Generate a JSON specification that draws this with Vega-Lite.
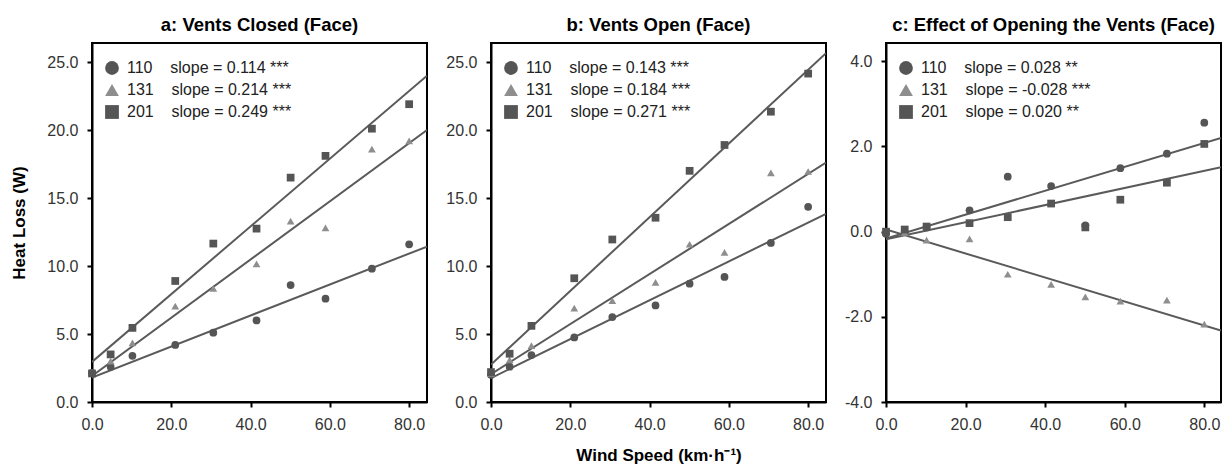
{
  "$schema": "https://vega.github.io/schema/vega-lite/v6.json",
  "padding": {"left": 9, "top": 14, "right": 2, "bottom": 5},
  "background": "white",
  "config": {
    "font": "Liberation Sans",
    "view": {"stroke": "black", "strokeWidth": 2},
    "axis": {"grid": false, "domainColor": "black", "domainWidth": 2, "tickColor": "black", "tickWidth": 2, "tickSize": 5, "labelFont": "Liberation Sans", "labelFontSize": 16, "labelColor": "#333333", "labelPadding": 9, "labelFlush": false, "labelOverlap": false, "labelExpr": "replace(datum.label, '\u2212', '-')", "titleFont": "Liberation Sans", "titleFontSize": 17, "titleFontWeight": "bold", "titleColor": "black"},
    "title": {"font": "Liberation Sans", "fontSize": 18.5, "fontWeight": "bold", "color": "black", "offset": 9},
    "legend": {"labelFont": "Liberation Sans", "labelFontSize": 16, "labelColor": "#222222", "labelLimit": 400, "symbolSize": 190, "symbolStrokeWidth": 0, "labelOffset": 7, "rowPadding": 6, "padding": 0, "title": null}
  },
  "datasets": {
    "points": [
      {"panel": "a", "group": "110", "speed": 0, "loss": 2.15},
      {"panel": "a", "group": "110", "speed": 4.7, "loss": 2.6},
      {"panel": "a", "group": "110", "speed": 10.2, "loss": 3.4},
      {"panel": "a", "group": "110", "speed": 21, "loss": 4.2},
      {"panel": "a", "group": "110", "speed": 30.6, "loss": 5.1},
      {"panel": "a", "group": "110", "speed": 41.5, "loss": 6.0},
      {"panel": "a", "group": "110", "speed": 50.1, "loss": 8.6},
      {"panel": "a", "group": "110", "speed": 58.9, "loss": 7.6},
      {"panel": "a", "group": "110", "speed": 70.6, "loss": 9.8},
      {"panel": "a", "group": "110", "speed": 80, "loss": 11.6},
      {"panel": "a", "group": "131", "speed": 0, "loss": 2.2},
      {"panel": "a", "group": "131", "speed": 4.7, "loss": 3.0},
      {"panel": "a", "group": "131", "speed": 10.2, "loss": 4.35},
      {"panel": "a", "group": "131", "speed": 21, "loss": 7.05},
      {"panel": "a", "group": "131", "speed": 30.6, "loss": 8.35},
      {"panel": "a", "group": "131", "speed": 41.5, "loss": 10.15},
      {"panel": "a", "group": "131", "speed": 50.1, "loss": 13.3},
      {"panel": "a", "group": "131", "speed": 58.9, "loss": 12.8},
      {"panel": "a", "group": "131", "speed": 70.6, "loss": 18.6},
      {"panel": "a", "group": "131", "speed": 80, "loss": 19.2},
      {"panel": "a", "group": "201", "speed": 0, "loss": 2.1},
      {"panel": "a", "group": "201", "speed": 4.7, "loss": 3.5},
      {"panel": "a", "group": "201", "speed": 10.2, "loss": 5.45},
      {"panel": "a", "group": "201", "speed": 21, "loss": 8.9},
      {"panel": "a", "group": "201", "speed": 30.6, "loss": 11.65},
      {"panel": "a", "group": "201", "speed": 41.5, "loss": 12.75},
      {"panel": "a", "group": "201", "speed": 50.1, "loss": 16.5},
      {"panel": "a", "group": "201", "speed": 58.9, "loss": 18.1},
      {"panel": "a", "group": "201", "speed": 70.6, "loss": 20.1},
      {"panel": "a", "group": "201", "speed": 80, "loss": 21.9},
      {"panel": "b", "group": "110", "speed": 0, "loss": 2.0},
      {"panel": "b", "group": "110", "speed": 4.7, "loss": 2.6},
      {"panel": "b", "group": "110", "speed": 10.2, "loss": 3.45},
      {"panel": "b", "group": "110", "speed": 21, "loss": 4.75},
      {"panel": "b", "group": "110", "speed": 30.6, "loss": 6.25},
      {"panel": "b", "group": "110", "speed": 41.5, "loss": 7.1},
      {"panel": "b", "group": "110", "speed": 50.1, "loss": 8.7},
      {"panel": "b", "group": "110", "speed": 58.9, "loss": 9.2},
      {"panel": "b", "group": "110", "speed": 70.6, "loss": 11.7},
      {"panel": "b", "group": "110", "speed": 80, "loss": 14.35},
      {"panel": "b", "group": "131", "speed": 0, "loss": 2.1},
      {"panel": "b", "group": "131", "speed": 4.7, "loss": 3.1},
      {"panel": "b", "group": "131", "speed": 10.2, "loss": 4.15},
      {"panel": "b", "group": "131", "speed": 21, "loss": 6.9},
      {"panel": "b", "group": "131", "speed": 30.6, "loss": 7.45},
      {"panel": "b", "group": "131", "speed": 41.5, "loss": 8.8},
      {"panel": "b", "group": "131", "speed": 50.1, "loss": 11.6},
      {"panel": "b", "group": "131", "speed": 58.9, "loss": 11.0},
      {"panel": "b", "group": "131", "speed": 70.6, "loss": 16.85},
      {"panel": "b", "group": "131", "speed": 80, "loss": 16.95},
      {"panel": "b", "group": "201", "speed": 0, "loss": 2.2},
      {"panel": "b", "group": "201", "speed": 4.7, "loss": 3.55},
      {"panel": "b", "group": "201", "speed": 10.2, "loss": 5.6},
      {"panel": "b", "group": "201", "speed": 21, "loss": 9.1},
      {"panel": "b", "group": "201", "speed": 30.6, "loss": 11.95},
      {"panel": "b", "group": "201", "speed": 41.5, "loss": 13.55},
      {"panel": "b", "group": "201", "speed": 50.1, "loss": 17.0},
      {"panel": "b", "group": "201", "speed": 58.9, "loss": 18.9},
      {"panel": "b", "group": "201", "speed": 70.6, "loss": 21.35},
      {"panel": "b", "group": "201", "speed": 80, "loss": 24.15},
      {"panel": "c", "group": "110", "speed": 0, "loss": -0.05},
      {"panel": "c", "group": "110", "speed": 4.7, "loss": 0.0},
      {"panel": "c", "group": "110", "speed": 10.2, "loss": 0.1},
      {"panel": "c", "group": "110", "speed": 21, "loss": 0.5},
      {"panel": "c", "group": "110", "speed": 30.6, "loss": 1.29},
      {"panel": "c", "group": "110", "speed": 41.5, "loss": 1.07},
      {"panel": "c", "group": "110", "speed": 50.1, "loss": 0.15},
      {"panel": "c", "group": "110", "speed": 58.9, "loss": 1.49},
      {"panel": "c", "group": "110", "speed": 70.6, "loss": 1.83},
      {"panel": "c", "group": "110", "speed": 80, "loss": 2.56},
      {"panel": "c", "group": "131", "speed": 0, "loss": 0.0},
      {"panel": "c", "group": "131", "speed": 4.7, "loss": -0.02},
      {"panel": "c", "group": "131", "speed": 10.2, "loss": -0.2},
      {"panel": "c", "group": "131", "speed": 21, "loss": -0.17},
      {"panel": "c", "group": "131", "speed": 30.6, "loss": -1.0},
      {"panel": "c", "group": "131", "speed": 41.5, "loss": -1.24},
      {"panel": "c", "group": "131", "speed": 50.1, "loss": -1.53},
      {"panel": "c", "group": "131", "speed": 58.9, "loss": -1.63},
      {"panel": "c", "group": "131", "speed": 70.6, "loss": -1.61},
      {"panel": "c", "group": "131", "speed": 80, "loss": -2.17},
      {"panel": "c", "group": "201", "speed": 0, "loss": 0.0},
      {"panel": "c", "group": "201", "speed": 4.7, "loss": 0.05},
      {"panel": "c", "group": "201", "speed": 10.2, "loss": 0.12},
      {"panel": "c", "group": "201", "speed": 21, "loss": 0.2},
      {"panel": "c", "group": "201", "speed": 30.6, "loss": 0.34},
      {"panel": "c", "group": "201", "speed": 41.5, "loss": 0.66},
      {"panel": "c", "group": "201", "speed": 50.1, "loss": 0.1},
      {"panel": "c", "group": "201", "speed": 58.9, "loss": 0.75},
      {"panel": "c", "group": "201", "speed": 70.6, "loss": 1.15},
      {"panel": "c", "group": "201", "speed": 80, "loss": 2.06}
    ],
    "fits": [
      {"panel": "a", "group": "110", "speed": 0, "loss": 1.8},
      {"panel": "a", "group": "110", "speed": 84.5, "loss": 11.43},
      {"panel": "a", "group": "131", "speed": 0, "loss": 1.92},
      {"panel": "a", "group": "131", "speed": 84.5, "loss": 20.0},
      {"panel": "a", "group": "201", "speed": 0, "loss": 2.95},
      {"panel": "a", "group": "201", "speed": 84.5, "loss": 24.0},
      {"panel": "b", "group": "110", "speed": 0, "loss": 1.76},
      {"panel": "b", "group": "110", "speed": 84.5, "loss": 13.84},
      {"panel": "b", "group": "131", "speed": 0, "loss": 2.05},
      {"panel": "b", "group": "131", "speed": 84.5, "loss": 17.6},
      {"panel": "b", "group": "201", "speed": 0, "loss": 2.75},
      {"panel": "b", "group": "201", "speed": 84.5, "loss": 25.65},
      {"panel": "c", "group": "110", "speed": 0, "loss": -0.16},
      {"panel": "c", "group": "110", "speed": 84.2, "loss": 2.2},
      {"panel": "c", "group": "131", "speed": 0, "loss": 0.05},
      {"panel": "c", "group": "131", "speed": 84.2, "loss": -2.32},
      {"panel": "c", "group": "201", "speed": 0, "loss": -0.18},
      {"panel": "c", "group": "201", "speed": 84.2, "loss": 1.51}
    ]
  },
  "spacing": 16,
  "resolve": {"scale": {"shape": "independent", "color": "independent"}, "legend": {"shape": "independent", "color": "independent"}},
  "hconcat": [
    {
      "width": 335, "height": 359,
      "title": "a: Vents Closed (Face)",
      "layer": [
        {
          "data": {"name": "fits"},
          "transform": [{"filter": "datum.panel === 'a'"}],
          "mark": {"type": "line", "color": "#5a5a5a", "strokeWidth": 2, "clip": true},
          "encoding": {
            "x": {"field": "speed", "type": "quantitative", "scale": {"domain": [0, 84.5], "nice": false, "zero": false}, "axis": {"values": [0, 20, 40, 60, 80], "format": ".1f", "title": null}},
            "y": {"field": "loss", "type": "quantitative", "scale": {"domain": [0, 26.4], "nice": false, "zero": false}, "axis": {"values": [0, 5, 10, 15, 20, 25], "format": ".1f", "title": "Heat Loss (W)", "titlePadding": 18}},
            "detail": {"field": "group"}
          }
        },
        {
          "data": {"name": "points"},
          "transform": [{"filter": "datum.panel === 'a'"}],
          "mark": {"type": "point", "filled": true, "size": 60, "opacity": 1},
          "encoding": {
            "x": {"field": "speed", "type": "quantitative"},
            "y": {"field": "loss", "type": "quantitative"},
            "shape": {"field": "group", "type": "nominal", "scale": {"domain": ["110", "131", "201"], "range": ["circle", "triangle-up", "square"]}, "legend": {"orient": "none", "legendX": 12, "legendY": 17, "symbolSize": 190, "encode": {"symbols": {"size": {"value": 190}}}, "labelExpr": "{'110': '110\u00a0\u00a0\u00a0\u00a0slope = 0.114 ***', '131': '131\u00a0\u00a0\u00a0\u00a0slope = 0.214 ***', '201': '201\u00a0\u00a0\u00a0\u00a0slope = 0.249 ***'}[datum.label]"}},
            "color": {"field": "group", "type": "nominal", "scale": {"domain": ["110", "131", "201"], "range": ["#555555", "#8e8e8e", "#555555"]}, "legend": {"orient": "none", "legendX": 12, "legendY": 17, "symbolSize": 190, "encode": {"symbols": {"size": {"value": 190}}}, "labelExpr": "{'110': '110\u00a0\u00a0\u00a0\u00a0slope = 0.114 ***', '131': '131\u00a0\u00a0\u00a0\u00a0slope = 0.214 ***', '201': '201\u00a0\u00a0\u00a0\u00a0slope = 0.249 ***'}[datum.label]"}}
          }
        }
      ]
    },
    {
      "width": 335, "height": 359,
      "title": "b: Vents Open (Face)",
      "layer": [
        {
          "data": {"name": "fits"},
          "transform": [{"filter": "datum.panel === 'b'"}],
          "mark": {"type": "line", "color": "#5a5a5a", "strokeWidth": 2, "clip": true},
          "encoding": {
            "x": {"field": "speed", "type": "quantitative", "scale": {"domain": [0, 84.5], "nice": false, "zero": false}, "axis": {"values": [0, 20, 40, 60, 80], "format": ".1f", "title": "Wind Speed (km·h⁻¹)", "titlePadding": 15}},
            "y": {"field": "loss", "type": "quantitative", "scale": {"domain": [0, 26.4], "nice": false, "zero": false}, "axis": {"values": [0, 5, 10, 15, 20, 25], "format": ".1f", "title": null}},
            "detail": {"field": "group"}
          }
        },
        {
          "data": {"name": "points"},
          "transform": [{"filter": "datum.panel === 'b'"}],
          "mark": {"type": "point", "filled": true, "size": 60, "opacity": 1},
          "encoding": {
            "x": {"field": "speed", "type": "quantitative"},
            "y": {"field": "loss", "type": "quantitative"},
            "shape": {"field": "group", "type": "nominal", "scale": {"domain": ["110", "131", "201"], "range": ["circle", "triangle-up", "square"]}, "legend": {"orient": "none", "legendX": 12, "legendY": 17, "symbolSize": 190, "encode": {"symbols": {"size": {"value": 190}}}, "labelExpr": "{'110': '110\u00a0\u00a0\u00a0\u00a0slope = 0.143 ***', '131': '131\u00a0\u00a0\u00a0\u00a0slope = 0.184 ***', '201': '201\u00a0\u00a0\u00a0\u00a0slope = 0.271 ***'}[datum.label]"}},
            "color": {"field": "group", "type": "nominal", "scale": {"domain": ["110", "131", "201"], "range": ["#555555", "#8e8e8e", "#555555"]}, "legend": {"orient": "none", "legendX": 12, "legendY": 17, "symbolSize": 190, "encode": {"symbols": {"size": {"value": 190}}}, "labelExpr": "{'110': '110\u00a0\u00a0\u00a0\u00a0slope = 0.143 ***', '131': '131\u00a0\u00a0\u00a0\u00a0slope = 0.184 ***', '201': '201\u00a0\u00a0\u00a0\u00a0slope = 0.271 ***'}[datum.label]"}}
          }
        }
      ]
    },
    {
      "width": 335, "height": 359,
      "title": "c: Effect of Opening the Vents (Face)",
      "layer": [
        {
          "mark": {"type": "rule", "color": "black", "strokeWidth": 2},
          "encoding": {"y": {"datum": 0, "type": "quantitative"}}
        },
        {
          "data": {"name": "fits"},
          "transform": [{"filter": "datum.panel === 'c'"}],
          "mark": {"type": "line", "color": "#5a5a5a", "strokeWidth": 2, "clip": true},
          "encoding": {
            "x": {"field": "speed", "type": "quantitative", "scale": {"domain": [0, 84.2], "nice": false, "zero": false}, "axis": {"values": [0, 20, 40, 60, 80], "format": ".1f", "title": null}},
            "y": {"field": "loss", "type": "quantitative", "scale": {"domain": [-4, 4.43], "nice": false, "zero": false}, "axis": {"values": [-4, -2, 0, 2, 4], "format": ".1f", "title": null}},
            "detail": {"field": "group"}
          }
        },
        {
          "data": {"name": "points"},
          "transform": [{"filter": "datum.panel === 'c'"}],
          "mark": {"type": "point", "filled": true, "size": 60, "opacity": 1},
          "encoding": {
            "x": {"field": "speed", "type": "quantitative"},
            "y": {"field": "loss", "type": "quantitative"},
            "shape": {"field": "group", "type": "nominal", "scale": {"domain": ["110", "131", "201"], "range": ["circle", "triangle-up", "square"]}, "legend": {"orient": "none", "legendX": 12, "legendY": 17, "symbolSize": 190, "encode": {"symbols": {"size": {"value": 190}}}, "labelExpr": "{'110': '110\u00a0\u00a0\u00a0\u00a0slope = 0.028 **', '131': '131\u00a0\u00a0\u00a0\u00a0slope = -0.028 ***', '201': '201\u00a0\u00a0\u00a0\u00a0slope = 0.020 **'}[datum.label]"}},
            "color": {"field": "group", "type": "nominal", "scale": {"domain": ["110", "131", "201"], "range": ["#555555", "#8e8e8e", "#555555"]}, "legend": {"orient": "none", "legendX": 12, "legendY": 17, "symbolSize": 190, "encode": {"symbols": {"size": {"value": 190}}}, "labelExpr": "{'110': '110\u00a0\u00a0\u00a0\u00a0slope = 0.028 **', '131': '131\u00a0\u00a0\u00a0\u00a0slope = -0.028 ***', '201': '201\u00a0\u00a0\u00a0\u00a0slope = 0.020 **'}[datum.label]"}}
          }
        }
      ]
    }
  ]
}
